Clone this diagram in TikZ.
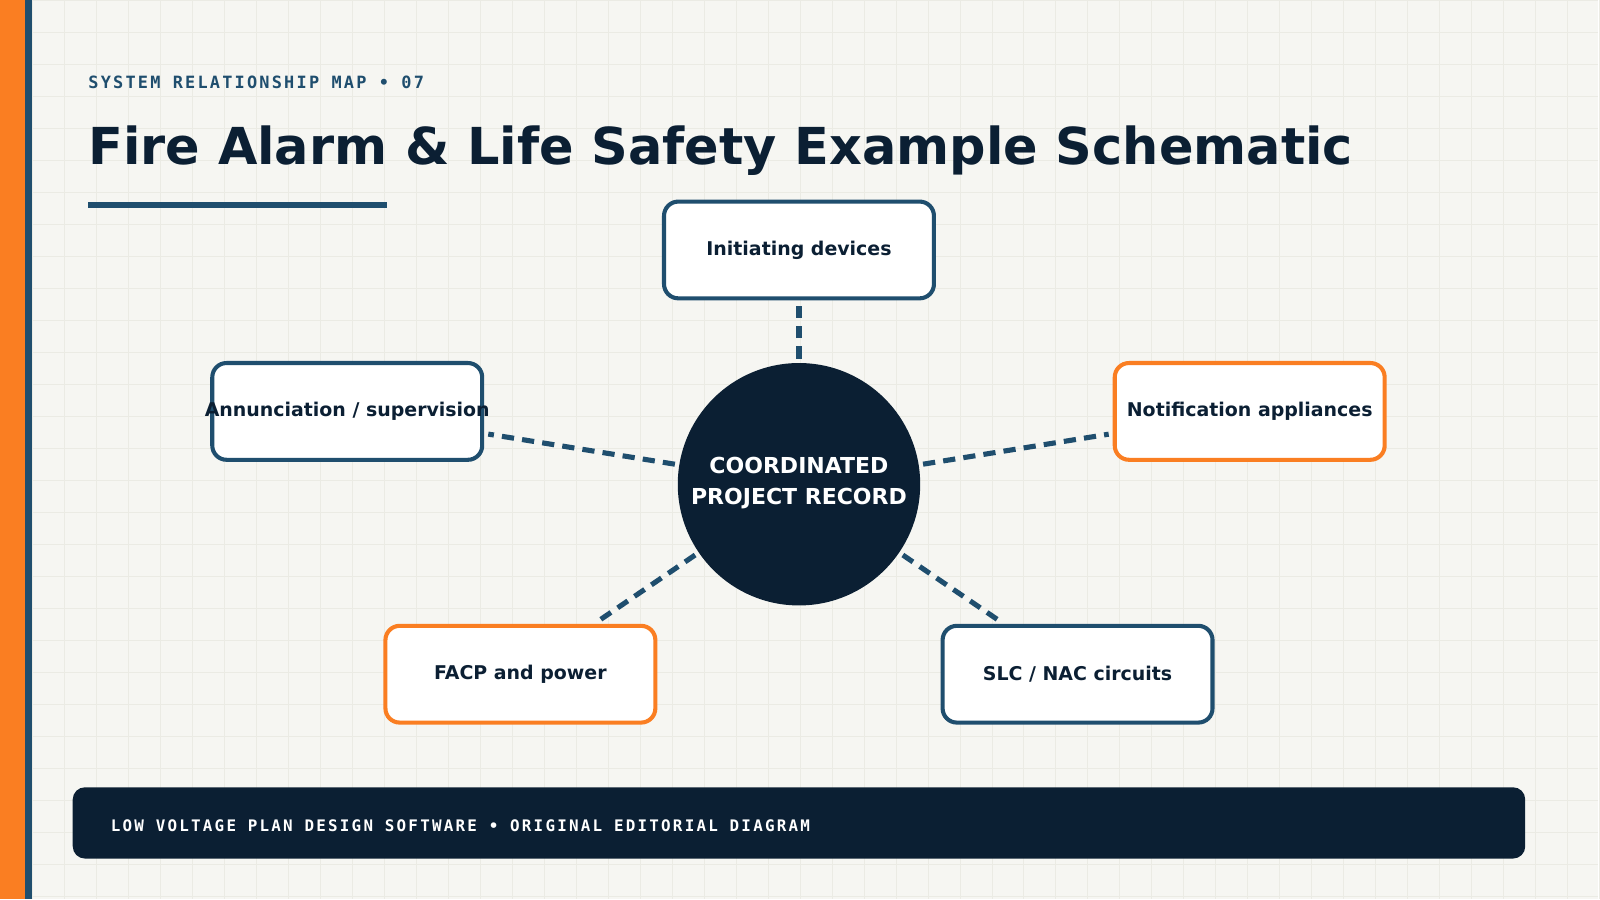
\documentclass[tikz,border=0pt]{standalone}
\usepackage{fontspec}
\setmainfont{DejaVu Sans}
\newfontfamily\monof{DejaVu Sans Mono}
\begin{document}
\definecolor{bg}{HTML}{F6F6F2}
\definecolor{gridc}{HTML}{EBEBE4}
\definecolor{navy}{HTML}{0B1F33}
\definecolor{steel}{HTML}{1F4E6E}
\definecolor{orng}{HTML}{FA7E22}
\begin{tikzpicture}[x=0.5pt,y=-0.5pt,
  box/.style={draw=#1,line width=2pt,fill=white,rounded corners=7pt,minimum width=132.5pt,minimum height=47.5pt,inner xsep=-4pt,font=\bfseries\fontsize{9.3}{11}\selectfont,text=navy},
  link/.style={draw=steel,line width=2.5pt,dash pattern=on 6pt off 4pt,shorten <=2pt,shorten >=2pt}]
\fill[bg] (0,0) rectangle (1568,882);
\foreach \i in {0,...,50} {\draw[gridc,line width=0.4pt] (\i*31.4,0) -- (\i*31.4,882);}
\foreach \i in {0,...,28} {\draw[gridc,line width=0.4pt] (0,\i*31.4) -- (1568,\i*31.4);}
\useasboundingbox (0,0) rectangle (1568,882);
\fill[orng] (0,0) rectangle (24,882);
\fill[steel] (24,0) rectangle (31,882);
\node[anchor=base west,inner sep=0,text=steel,font=\monof\bfseries\fontsize{8.3}{10}\selectfont\addfontfeature{LetterSpace=13}] (sub) at (86,86) {SYSTEM RELATIONSHIP MAP • 07};
\node[anchor=base west,inner sep=0,text=navy,font=\bfseries\fontsize{25}{30}\selectfont] (title) at (86,161) {Fire Alarm \& Life Safety Example Schematic};
\fill[steel] (86,198) rectangle (380,204);
\node[circle,fill=navy,minimum size=119pt,inner sep=0,align=center,text=white,font=\bfseries\fontsize{10.8}{15.5}\selectfont] (c) at (784,475) {\raisebox{3.5pt}{COORDINATED}\\\raisebox{3.5pt}{PROJECT RECORD}};
\node[box=steel] (init) at (784,245) {\raisebox{-1pt}{Initiating devices}};
\node[box=steel] (ann) at (340.5,403.5) {\raisebox{-1pt}{Annunciation / supervision}};
\node[box=orng] (notif) at (1226.5,403.5) {\raisebox{-1pt}{Notification appliances}};
\node[box=orng] (facp) at (510.5,661.5) {\raisebox{-1pt}{FACP and power}};
\node[box=steel] (slc) at (1057.5,661.5) {\raisebox{-1pt}{SLC / NAC circuits}};
\draw[link] (c) -- (init);
\draw[link] (c) -- (ann);
\draw[link] (c) -- (notif);
\draw[link] (c) -- (facp);
\draw[link] (c) -- (slc);
\node[fill=navy,rounded corners=6pt,minimum width=713pt,minimum height=35pt] (foot) at (784,807.5) {};
\node[anchor=base west,inner sep=0,text=white,font=\monof\bfseries\fontsize{7.8}{10}\selectfont\addfontfeature{LetterSpace=14}] (ft) at (108,816) {LOW VOLTAGE PLAN DESIGN SOFTWARE • ORIGINAL EDITORIAL DIAGRAM};
\end{tikzpicture}
\end{document}
